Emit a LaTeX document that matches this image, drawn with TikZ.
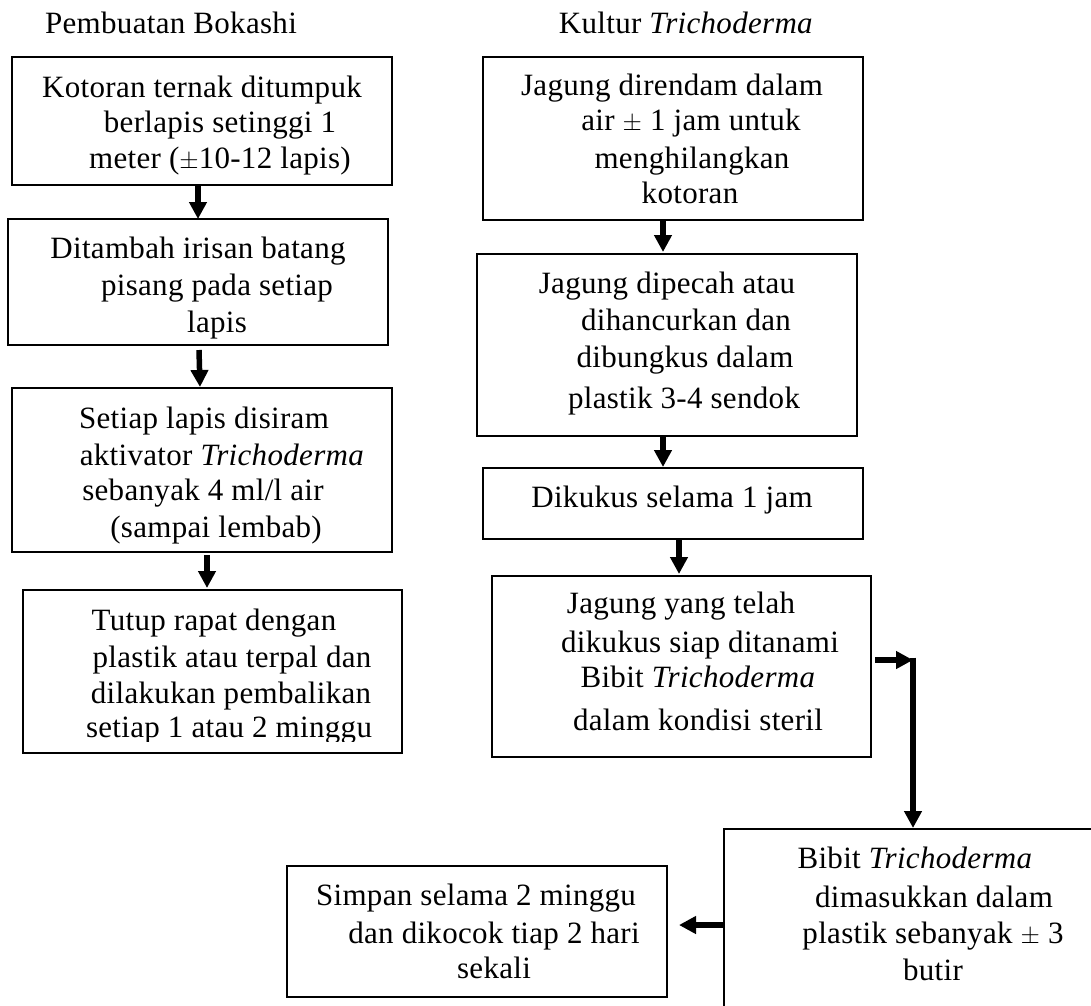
\documentclass[tikz,border=0pt]{standalone}
\usepackage{fontspec}
\setmainfont{Liberation Serif}[LetterSpace=1]
\usetikzlibrary{arrows.meta,calc}
\begin{document}
\begin{tikzpicture}[x=1pt,y=-1pt,
  box/.style={draw,line width=1.6pt,inner sep=0pt,outer sep=0pt,anchor=north west},
  txt/.style={anchor=base,inner sep=0pt,font=\fontsize{31}{37}\selectfont},
  arr/.style={line width=5.5pt,-{Triangle[width=17pt,length=17pt]}}]
\useasboundingbox (0,0) rectangle (1091,1005);
\clip (0,0) rectangle (1091,1005);

% titles
\node[txt] (t1) at (171,33) {Pembuatan Bokashi};
\node[txt] (t2) at (686,33) {Kultur \textit{Trichoderma}};

% boxes left column
\node[box,minimum width=380pt,minimum height=128pt] (b1) at (12,57) {};
\node[box,minimum width=380pt,minimum height=126pt] (b2) at (8,219) {};
\node[box,minimum width=380pt,minimum height=164pt] (b3) at (12,388) {};
\node[box,minimum width=379pt,minimum height=163pt] (b4) at (23,590) {};

% boxes right column
\node[box,minimum width=380pt,minimum height=163pt] (r1) at (483,57) {};
\node[box,minimum width=380pt,minimum height=182pt] (r2) at (477,254) {};
\node[box,minimum width=380pt,minimum height=71pt] (r3) at (483,468) {};
\node[box,minimum width=379pt,minimum height=181pt] (r4) at (492,576) {};
\node[box,minimum width=380pt,minimum height=200pt] (r5) at (724,829) {};
\node[box,minimum width=380pt,minimum height=131pt] (s) at (287,866) {};

% text b1
\node[txt] (b1a) at (202,97) {Kotoran ternak ditumpuk};
\node[txt] (b1b) at (220,132) {berlapis setinggi 1};
\node[txt] (b1c) at (220,168) {meter ($\pm$10-12 lapis)};
% text b2
\node[txt] (b2a) at (198,258) {Ditambah irisan batang};
\node[txt] (b2b) at (217,295) {pisang pada setiap};
\node[txt] (b2c) at (217,332) {lapis};
% text b3
\node[txt] (b3a) at (204,428) {Setiap lapis disiram};
\node[txt] (b3b) at (222,465) {aktivator \textit{Trichoderma}};
\node[txt] (b3c) at (203,500) {sebanyak 4 ml/l air};
\node[txt] (b3d) at (216,537) {(sampai lembab)};
% text b4 (last line cut off)
\begin{scope}
\clip (0,0) rectangle (1091,741);
\node[txt] (b4a) at (214,630) {Tutup rapat dengan};
\node[txt] (b4b) at (232,667) {plastik atau terpal dan};
\node[txt] (b4c) at (231,703) {dilakukan pembalikan};
\node[txt] (b4d) at (229,737) {setiap 1 atau 2 minggu};
\end{scope}

% text r1
\node[txt] (r1a) at (672,95) {Jagung direndam dalam};
\node[txt] (r1b) at (691,130) {air $\pm$ 1 jam untuk};
\node[txt] (r1c) at (692,168) {menghilangkan};
\node[txt] (r1d) at (690,203) {kotoran};
% text r2
\node[txt] (r2a) at (667,293) {Jagung dipecah atau};
\node[txt] (r2b) at (686,330) {dihancurkan dan};
\node[txt] (r2c) at (685,367) {dibungkus dalam};
\node[txt] (r2d) at (684,408) {plastik 3-4 sendok};
% text r3
\node[txt] (r3a) at (672,507) {Dikukus selama 1 jam};
% text r4
\node[txt] (r4a) at (681,613) {Jagung yang telah};
\node[txt] (r4b) at (700,652) {dikukus siap ditanami};
\node[txt] (r4c) at (698,687) {Bibit \textit{Trichoderma}};
\node[txt] (r4d) at (698,730) {dalam kondisi steril};
% text r5
\node[txt] (r5a) at (915,868) {Bibit \textit{Trichoderma}};
\node[txt] (r5b) at (934,907) {dimasukkan dalam};
\node[txt] (r5c) at (933,943) {plastik sebanyak $\pm$ 3};
\node[txt] (r5d) at (933,980) {butir};
% text s
\node[txt] (sa) at (476,905) {Simpan selama 2 minggu};
\node[txt] (sb) at (494,943) {dan dikocok tiap 2 hari};
\node[txt] (sc) at (494,978) {sekali};

% arrows
\draw[arr] ($(b1.south)+(-4,0)$) -- (b2.north);
\draw[arr] ($(b2.south)+(1,5)$) -- ($(b3.north)+(-2,-1)$);
\draw[arr] ($(b3.south)+(5,3)$) -- ($(b4.north)+(-5.5,-2)$);
\draw[arr] ($(r1.south)+(-10,0)$) -- ($(r2.north)+(-4,-2)$);
\draw[arr] ($(r2.south)+(-4,0)$) -- ($(r3.north)+(-10,-1)$);
\draw[arr] ($(r3.south)+(6,1)$) -- ($(r4.north)+(-2.5,-2)$);
\coordinate (k) at (913,660);
\coordinate (ktop) at (913,657.5);
\draw[arr] ($(r4.east)+(4,-6.5)$) -- (k);
\draw[arr] (ktop) -- ($(k |- r5.north)+(0,-1)$);
\draw[arr] ($(r5.west)+(0,-4)$) -- ($(s.east)+(12,-6.5)$);
\end{tikzpicture}
\end{document}
